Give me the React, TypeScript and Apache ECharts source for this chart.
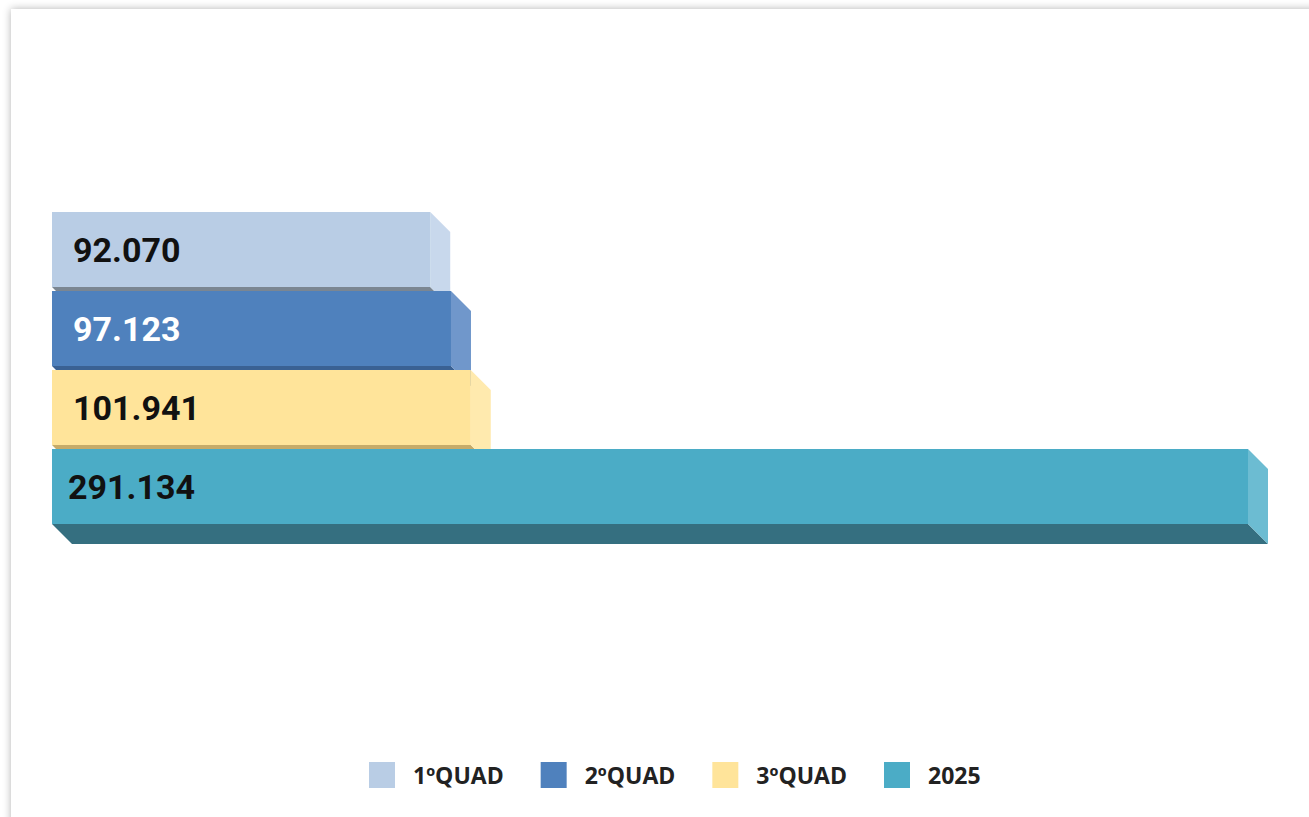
import React, { useEffect, useRef } from "react";
import * as echarts from "echarts";

const categories = ["1ºQUAD", "2ºQUAD", "3ºQUAD", "2025"];
const values = [92070, 97123, 101941, 291134];

const frontColors = ["#B9CDE5", "#4F81BD", "#FFE49A", "#4BACC6"];
const sideColors = ["#C8D8EC", "#7097CB", "#FFEAAE", "#6CBCD2"];
const bottomColors = ["#7B8692", "#3A6193", "#C6AB69", "#356F80"];
const labelColors = ["#111111", "#ffffff", "#111111", "#111111"];
const labelShift = [21, 21, 21, 16];

const fmt = (v: number) => String(v).replace(/\B(?=(\d{3})+(?!\d))/g, ".");

function makeRender(i: number) {
  return (params: any, api: any) => {
    const v = api.value(0);
    const c = api.value(1);
    const start = api.coord([0, c]);
    const end = api.coord([v, c]);
    const band = api.size([0, 1])[1];
    const d = 20;
    const x0 = start[0];
    const x1 = end[0];
    const yt = end[1] - band / 2 + 2;
    const yb = end[1] + band / 2 - 2;
    return {
      type: "group",
      children: [
        {
          type: "polygon",
          shape: { points: [[x0, yb], [x1, yb], [x1 + d, yb + d], [x0 + d, yb + d]] },
          style: { fill: bottomColors[i] },
        },
        {
          type: "polygon",
          shape: { points: [[x1, yt], [x1 + d, yt + d], [x1 + d, yb + d], [x1, yb]] },
          style: { fill: sideColors[i] },
        },
        {
          type: "rect",
          shape: { x: x0, y: yt, width: x1 - x0, height: yb - yt },
          style: { fill: frontColors[i] },
        },
        {
          type: "text",
          style: {
            text: fmt(v),
            x: x0 + labelShift[i],
            y: (yt + yb) / 2,
            fill: labelColors[i],
            fontSize: 34,
            fontWeight: "bold",
            fontFamily: "Roboto",
            verticalAlign: "middle",
            align: "left",
          },
        },
      ],
    };
  };
}

export default function App() {
  const ref = useRef<HTMLDivElement>(null);
  useEffect(() => {
    if (!ref.current) return;
    const chart = echarts.init(ref.current, undefined, { renderer: "svg" });
    chart.setOption({
      animation: false,
      grid: { left: 52, top: 210, height: 316, right: 61 },
      xAxis: { type: "value", min: 0, max: 291134, show: false },
      yAxis: { type: "category", data: categories, inverse: true, show: false },
      legend: {
        left: 369,
        top: 762,
        padding: 0,
        itemWidth: 26,
        itemHeight: 26,
        itemGap: 37,
        icon: "rect",
        data: categories,
        textStyle: {
          fontFamily: "Open Sans",
          fontWeight: "bold",
          fontSize: 23,
          color: "#222222",
          padding: [0, 0, 0, 13],
        },
      },
      series: categories.map((name, i) => ({
        name,
        type: "custom",
        z: 2 + i,
        itemStyle: { color: frontColors[i] },
        encode: { x: 0, y: 1 },
        data: [[values[i], i]],
        renderItem: makeRender(i),
      })),
    });
    return () => chart.dispose();
  }, []);
  return (
    <div style={{ position: "fixed", left: 0, top: 0, width: 1309, height: 817, overflow: "hidden", background: "#fff" }}>
      <div
        style={{
          position: "absolute",
          left: 11,
          top: 9,
          width: 1400,
          height: 900,
          background: "#fff",
          boxShadow: "0 0 8px rgba(0,0,0,0.3)",
        }}
      />
      <div ref={ref} style={{ position: "absolute", left: 0, top: 0, width: 1309, height: 817 }} />
    </div>
  );
}
